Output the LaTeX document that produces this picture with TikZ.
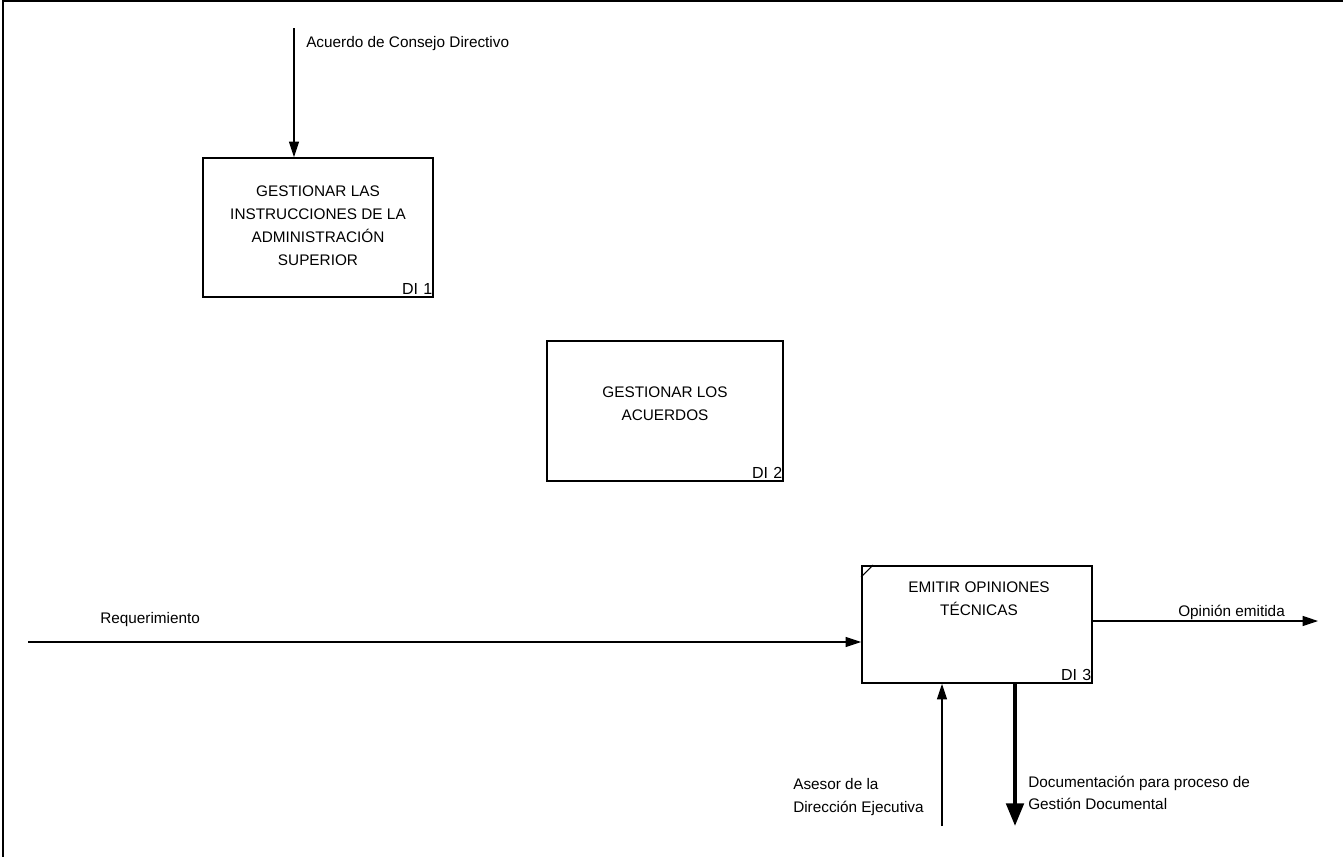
\documentclass[tikz,border=0pt]{standalone}
\usepackage{fontspec}
\setmainfont{Liberation Sans}
\usetikzlibrary{arrows.meta}
\begin{document}
\begin{tikzpicture}[x=0.75pt,y=-0.75pt]
  \tikzstyle{box}=[draw,rectangle,line width=1.4pt,inner sep=0pt]
  \tikzstyle{title}=[align=center,font=\fontsize{11.5}{17.3}\selectfont]
  \tikzstyle{tag}=[font=\fontsize{12}{14}\selectfont,inner xsep=1pt,inner ysep=2.5pt]
  \tikzstyle{label}=[align=left,font=\fontsize{11.5}{17}\selectfont,inner xsep=0pt]
  \tikzstyle{flow}=[draw,line width=0.8pt,-{Triangle[length=11.5pt,width=7.5pt]}]
  \tikzstyle{heavy}=[draw,line width=3pt,-{Triangle[length=17pt,width=13pt]}]
  \useasboundingbox (0,0) rectangle (1343,857);
  % frame
  \draw[line width=1.5pt] (3,857) -- (3,1) -- (1343,1);
  % activities
  \node[box,minimum width=172.5pt,minimum height=104.25pt] (di1) at (318,227.5) {};
  \node[box,minimum width=177pt,minimum height=105pt] (di2) at (665,411) {};
  \node[box,minimum width=172.5pt,minimum height=87.75pt] (di3) at (977,624.5) {};
  \node[title] (t1) at (318,226) {GESTIONAR LAS\\INSTRUCCIONES DE LA\\ADMINISTRACIÓN\\SUPERIOR};
  \node[title] (t2) at (665,404) {GESTIONAR LOS\\ACUERDOS};
  \node[title] (t3) at (979,599) {EMITIR OPINIONES\\TÉCNICAS};
  \node[tag,anchor=south east] (n1) at (di1.south east) {DI\,\,1};
  \node[tag,anchor=south east] (n2) at (di2.south east) {DI\,\,2};
  \node[tag,anchor=south east] (n3) at (di3.south east) {DI\,\,3};
  \draw[line width=0.8pt] ([yshift=-9pt]di3.north west) -- ([xshift=9pt]di3.north west);
  % arrows
  \coordinate (ctrl) at (294,28);
  \coordinate (req) at (28,642);
  \coordinate (out) at (1318,621);
  \coordinate (mech) at (942,826);
  \coordinate (doc) at (1015,826);
  \draw[flow] (ctrl) -- (ctrl |- di1.north);
  \draw[flow] (req) -- (req -| di3.west);
  \draw[flow] (out -| di3.east) -- (out);
  \draw[flow] (mech) -- (mech |- di3.south);
  \draw[heavy] (doc |- di3.south) -- (doc);
  % arrow labels
  \node[label,anchor=base west] (lctrl) at (306,47) {Acuerdo de Consejo Directivo};
  \node[label,anchor=base west] (lreq) at (100,623) {Requerimiento};
  \node[label,anchor=base west] (lout) at (1178,616) {Opinión emitida};
  \node[label,anchor=west] (lmech) at (793,797) {Asesor de la\\Dirección Ejecutiva};
  \node[label,anchor=west] (ldoc) at (1028,793) {Documentación para proceso de\\Gestión Documental};
\end{tikzpicture}
\end{document}
